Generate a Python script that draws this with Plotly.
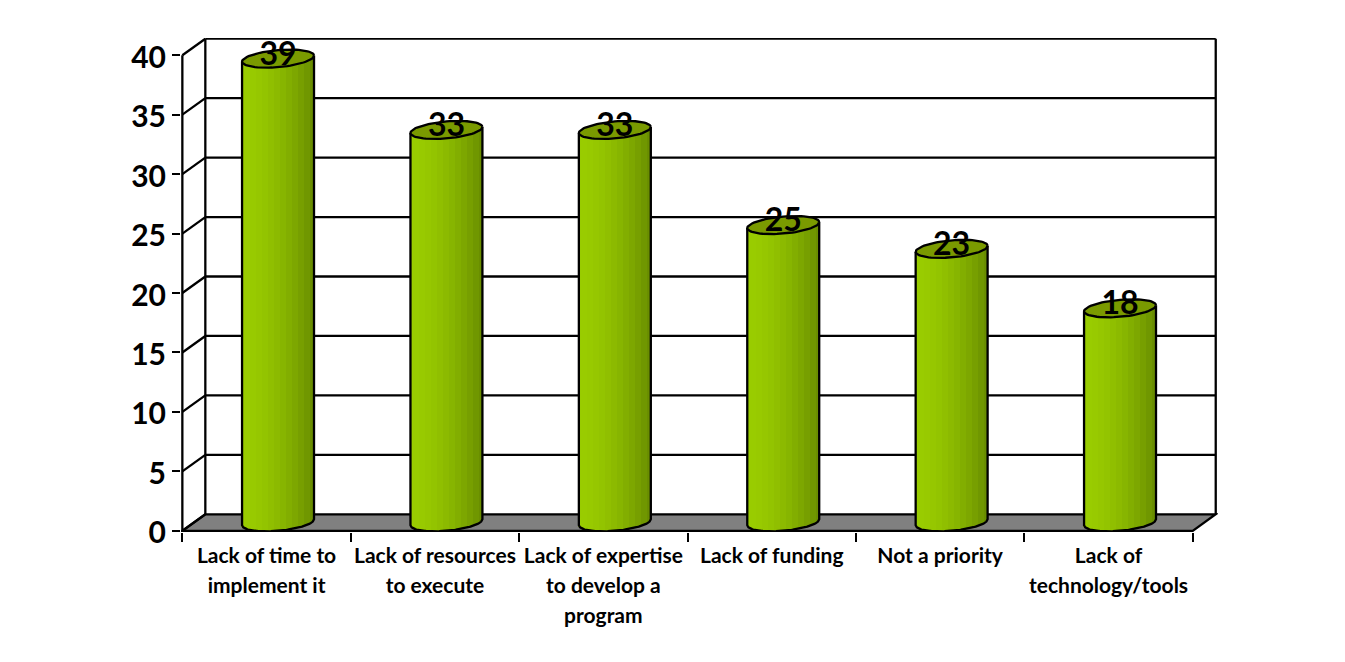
import numpy as np
import plotly.graph_objects as go

categories = [
    ["Lack of time to", "implement it"],
    ["Lack of resources", "to execute"],
    ["Lack of expertise", "to develop a", "program"],
    ["Lack of funding"],
    ["Not a priority"],
    ["Lack of", "technology/tools"],
]
values = [39, 33, 33, 25, 23, 18]
y_ticks = [0, 5, 10, 15, 20, 25, 30, 35, 40]

# pixels per data unit, the chart is a faked 3D box
PX_X = 168.5
PX_Y = 11.875
DEPTH_X = 23 / PX_X
DEPTH_Y = 16.5 / PX_Y
HALF_W = 36 / PX_X
ELL_B = 8.5 / PX_Y
ELL_TILT = 3 / PX_Y
ELL_OFF = 8.5 / PX_Y
X_RANGE = [-0.008, 6.15]
Y_RANGE = [-0.1, 41.45]
N_STRIPS = 48
LINE_W = 2.3


def strip_color(t):
    # light on the left, darker towards the right edge, banded like the original
    t = round(t * 12) / 12
    k = t ** 1.8
    return "rgb(%d,%d,0)" % (154 - 48 * k, 205 - 63 * k)


def ellipse(cx, yc):
    a = np.linspace(0, 2 * np.pi, 73)
    return cx + HALF_W * np.cos(a), yc + ELL_TILT * np.cos(a) + ELL_B * np.sin(a)


def front_curve(u):
    return ELL_TILT * u - ELL_B * np.sqrt(1 - np.minimum(u * u, 1))


# walls and floor sit below the cylinders
shapes = []


def add_line(x0, y0, x1, y1):
    shapes.append(dict(type="line", xref="x", yref="y", x0=x0, y0=y0, x1=x1, y1=y1,
                       layer="below", line=dict(color="black", width=LINE_W)))


n = len(categories)
shapes.append(dict(
    type="path", xref="x", yref="y", layer="below", fillcolor="#808080",
    line=dict(color="black", width=LINE_W),
    path=f"M0,0 L{n},0 L{n + DEPTH_X},{DEPTH_Y} L{DEPTH_X},{DEPTH_Y} Z",
))
for t in y_ticks[1:]:
    add_line(DEPTH_X, t + DEPTH_Y, n + DEPTH_X, t + DEPTH_Y)
for t in y_ticks:
    add_line(0, t, DEPTH_X, t + DEPTH_Y)
add_line(0, 0, 0, y_ticks[-1])
add_line(DEPTH_X, DEPTH_Y, DEPTH_X, y_ticks[-1] + DEPTH_Y)
add_line(n + DEPTH_X, DEPTH_Y, n + DEPTH_X, y_ticks[-1] + DEPTH_Y)

fig = go.Figure()

# cylinder bodies are narrow bars side by side, that gives the shading
bar_x, bar_h, bar_base, bar_col = [], [], [], []
for i, v in enumerate(values):
    cx = i + 0.5 + DEPTH_X / 2
    for s in range(N_STRIPS):
        u = (s + 0.5) / N_STRIPS * 2 - 1
        bar_x.append(cx + u * HALF_W)
        bar_h.append(v)
        bar_base.append(ELL_OFF + front_curve(u))
        bar_col.append(strip_color((s + 0.5) / N_STRIPS))
fig.add_trace(go.Bar(
    x=bar_x, y=bar_h, base=bar_base,
    width=2 * HALF_W / N_STRIPS * 1.15,
    marker=dict(color=bar_col, line=dict(width=0)),
    showlegend=False, hoverinfo="skip",
))

for i, v in enumerate(values):
    cx = i + 0.5 + DEPTH_X / 2
    u = np.linspace(-1, 1, 61)
    # sides and lower rim
    fig.add_trace(go.Scatter(
        x=np.concatenate([[cx - HALF_W], cx + u * HALF_W, [cx + HALF_W]]),
        y=np.concatenate([[v + ELL_OFF - ELL_TILT], ELL_OFF + front_curve(u), [v + ELL_OFF + ELL_TILT]]),
        mode="lines", line=dict(color="black", width=LINE_W),
        showlegend=False, hoverinfo="skip", cliponaxis=False,
    ))
    ex, ey = ellipse(cx, v + ELL_OFF)
    fig.add_trace(go.Scatter(
        x=ex, y=ey, mode="lines", fill="toself", fillcolor="#7A9A00",
        line=dict(color="black", width=LINE_W),
        showlegend=False, hoverinfo="skip", cliponaxis=False,
    ))

fig.add_trace(go.Scatter(
    x=[i + 0.5 + DEPTH_X / 2 for i in range(n)],
    y=[v + 0.87 for v in values],
    mode="text", text=[str(v) for v in values], textposition="middle center",
    textfont=dict(family="Lato", size=32, color="black", weight="bold"),
    showlegend=False, hoverinfo="skip", cliponaxis=False,
))

tick_text = [
    "<br>".join(f'<span style="font-size:21px">{line}</span>' for line in lines)
    for lines in categories
]

fig.update_layout(
    width=1345,
    height=662,
    bargap=0,
    barmode="overlay",
    paper_bgcolor="white",
    plot_bgcolor="white",
    shapes=shapes,
    showlegend=False,
    margin=dict(
        l=182 + X_RANGE[0] * PX_X,
        r=1345 - (182 + X_RANGE[1] * PX_X),
        t=530.7 - Y_RANGE[1] * PX_Y,
        b=662 - (530.7 - Y_RANGE[0] * PX_Y),
        pad=0,
    ),
)
fig.update_xaxes(
    range=X_RANGE,
    tickmode="array",
    tickvals=[i + 0.5 for i in range(n)],
    ticktext=tick_text,
    ticks="",
    ticklen=0,
    ticklabelstandoff=7,
    showgrid=False,
    zeroline=False,
    showline=False,
    tickfont=dict(family="Lato", size=23, color="black", weight="bold"),
    minor=dict(tickmode="array", tickvals=list(range(n + 1)), ticks="outside",
               ticklen=9, tickwidth=LINE_W, tickcolor="black", showgrid=False),
)
fig.update_yaxes(
    range=Y_RANGE,
    tickmode="array",
    tickvals=y_ticks,
    ticks="outside",
    ticklen=8,
    tickwidth=LINE_W,
    tickcolor="black",
    ticklabelshift=2,
    showgrid=False,
    zeroline=False,
    showline=False,
    tickfont=dict(family="Lato", size=30, color="black", weight="bold"),
)

fig.write_html("out.html", config=dict(displayModeBar=False),
               post_script="document.body.style.margin='0';")
